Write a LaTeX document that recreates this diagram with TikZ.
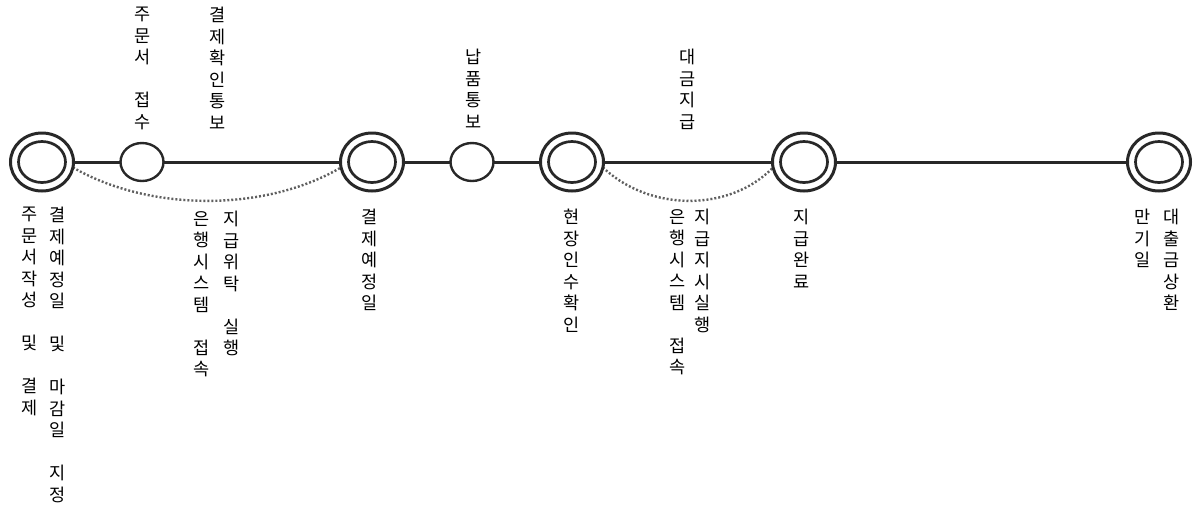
\documentclass[tikz,border=0pt]{standalone}
\usepackage{fontspec}
\newfontfamily\kr{Noto Sans CJK KR}
\usetikzlibrary{shapes.geometric}
\pgfdeclarelayer{background}
\pgfsetlayers{background,main}
\definecolor{ringc}{RGB}{40,40,40}
\definecolor{dotc}{RGB}{95,95,95}
\tikzset{
  ringout/.style={ellipse, draw=ringc, line width=3pt, fill=white,
    minimum width=63pt, minimum height=58pt, inner sep=0pt, outer sep=0pt},
  ringin/.style={ellipse, draw=ringc, line width=2.7pt, fill=white,
    minimum width=47pt, minimum height=41pt, inner sep=0pt, outer sep=0pt},
  eventnode/.style={ellipse, draw=ringc, line width=2.4pt, fill=white,
    minimum width=43pt, minimum height=38pt, inner sep=0pt, outer sep=0pt},
  mainline/.style={draw=ringc, line width=3pt},
  dotline/.style={draw=dotc, line width=2.4pt, dash pattern=on 2pt off 2pt},
  vlabel/.style={font=\kr\fontsize{17.5}{21.5}\selectfont, align=center, inner sep=0pt,
    anchor=north, text=black}
}
\begin{document}
\begin{tikzpicture}[x=1pt,y=-1pt]
\useasboundingbox (0,0) rectangle (1194,507);
% events
\node[ringout] (c1) at (42,162) {};
\node[ringin] (c1i) at (c1) {};
\node[eventnode] (s1) at (142,162) {};
\node[ringout] (c2) at (372,162) {};
\node[ringin] (c2i) at (c2) {};
\node[eventnode] (s2) at (472,162) {};
\node[ringout] (c3) at (572,162) {};
\node[ringin] (c3i) at (c3) {};
\node[ringout] (c4) at (804,162) {};
\node[ringin] (c4i) at (c4) {};
\node[ringout] (c5) at (1159,162) {};
\node[ringin] (c5i) at (c5) {};
% connectors
\begin{pgfonlayer}{background}
\draw[mainline] (c1) -- (s1);
\draw[mainline] (s1) -- (c2);
\draw[mainline] (c2) -- (s2);
\draw[mainline] (s2) -- (c3);
\draw[mainline] (c3) -- (c4);
\draw[mainline] (c4) -- (c5);
\draw[dotline] (c1.-10) .. controls (150,212) and (265,212) .. (c2.190);
\draw[dotline] (c3.-10) .. controls (650,212) and (730,212) .. (c4.190);
\end{pgfonlayer}
% top labels
\node[vlabel] (t1) at (143,7) {주\\문\\서\\\mbox{}\\접\\수};
\node[vlabel] (t2) at (218,7) {결\\제\\확\\인\\통\\보};
\node[vlabel] (t3) at (474,49) {납\\품\\통\\보};
\node[vlabel] (t4) at (688,49) {대\\금\\지\\급};
% bottom labels
\node[vlabel] (b1) at (30,207) {주\\문\\서\\작\\성\\\mbox{}\\및\\\mbox{}\\결\\제};
\node[vlabel] (b2) at (58,207) {결\\제\\예\\정\\일\\\mbox{}\\및\\\mbox{}\\마\\감\\일\\\mbox{}\\지\\정};
\node[vlabel] (b3) at (202,211) {은\\행\\시\\스\\템\\\mbox{}\\접\\속};
\node[vlabel] (b4) at (232,211) {지\\급\\위\\탁\\\mbox{}\\실\\행};
\node[vlabel] (b5) at (370,209) {결\\제\\예\\정\\일};
\node[vlabel] (b6) at (572,209) {현\\장\\인\\수\\확\\인};
\node[vlabel] (b7) at (678,209) {은\\행\\시\\스\\템\\\mbox{}\\접\\속};
\node[vlabel] (b8) at (703,209) {지\\급\\지\\시\\실\\행};
\node[vlabel] (b9) at (802,209) {지\\급\\완\\료};
\node[vlabel] (b10) at (1143,209) {만\\기\\일};
\node[vlabel] (b11) at (1172,209) {대\\출\\금\\상\\환};
\end{tikzpicture}
\end{document}
